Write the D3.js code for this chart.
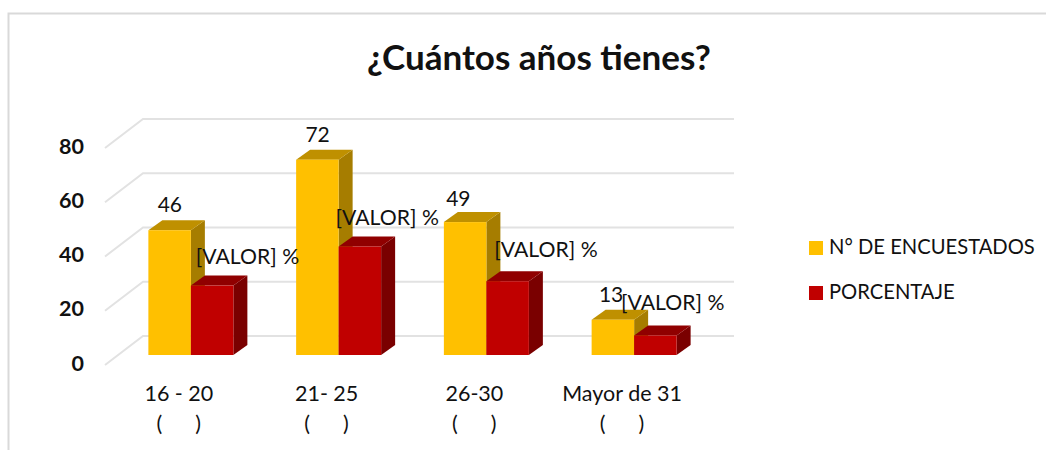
<!DOCTYPE html>
<html><head><meta charset="utf-8">
<script src="https://cdn.jsdelivr.net/npm/d3@7/dist/d3.min.js"></script>
<style>html,body{margin:0;padding:0;background:#fff}svg{display:block}text{font-family:Lato,"Open Sans",sans-serif;fill:#111;white-space:pre}</style>
</head><body><svg id="c" width="1046" height="450"></svg>
<script>
const chartTitle = "¿Cuántos años tienes?";
const categories = ["16 - 20", "21- 25", "26-30", "Mayor de 31"];
const categorySub = ["(      )", "(      )", "(      )", "(      )"];
const seriesNames = ["N° DE ENCUESTADOS", "PORCENTAJE"];
const encuestados = [46, 72, 49, 13];
const porcentaje = [25.6, 40, 27.2, 7.2];
const porcentajeLabels = ["[VALOR] %", "[VALOR] %", "[VALOR] %", "[VALOR] %"];
const yTicks = [0, 20, 40, 60, 80];

// layout
const countNudge = [[-21,-18],[-21,-18],[-28,-16],[-23,-18]];
const pctNudge = [[56.5,-22],[48.5,-22],[59.5,-24],[38.5,-25]];

const svg = d3.select("#c");
const front = {l:117, r:708, base:355};
const wall = {dx:38, dy:29};
const depth = {dx:14, dy:10};
const y = d3.scaleLinear().domain([0,80]).range([front.base, front.base-217]);
const x0 = d3.scaleBand().domain(categories).range([front.l, front.r]);
const barW = 42.5;
const x1 = i => x0(categories[i]) + x0.bandwidth()/2;
const col = [{f:"#FFC000",t:"#BF9000",s:"#A67D00"},{f:"#C00000",t:"#900000",s:"#7A0000"}];

svg.append("path").attr("d","M8.5,450V13.5H1046").attr("fill","none").attr("stroke","#d9d9d9").attr("stroke-width",2);

const gx0 = 105, gx1 = 143, gEnd = 734;
yTicks.forEach(t=>{
  const yy = y(t)+10;
  svg.append("path").attr("d",`M${gx0},${yy}L${gx1},${yy-wall.dy}H${gEnd}`).attr("fill","none").attr("stroke","#e2e2e2").attr("stroke-width",2);
});

svg.selectAll(".yt").data(yTicks).join("text").attr("x",84).attr("y",d=>y(d)+8)
  .attr("dy",".35em").attr("font-size",21.5).attr("font-weight",700).attr("text-anchor","end").text(d=>d);

function bar(v,i,s){
  const xl = x1(i) + (s===0?-barW:0), xr = xl+barW, yt = y(v), yb = y(0);
  const g = svg.append("g");
  g.append("path").attr("d",`M${xr},${yb}V${yt}l${depth.dx},${-depth.dy}V${yb-depth.dy}Z`).attr("fill",col[s].s);
  g.append("path").attr("d",`M${xl},${yt}l${depth.dx},${-depth.dy}H${xr+depth.dx}L${xr},${yt}Z`).attr("fill",col[s].t);
  g.append("rect").attr("x",xl).attr("y",yt).attr("width",barW).attr("height",yb-yt).attr("fill",col[s].f);
}
categories.forEach((c,i)=>{bar(encuestados[i],i,0);bar(porcentaje[i],i,1);});

encuestados.forEach((v,i)=>{
  svg.append("text").attr("x",x1(i)+countNudge[i][0]).attr("y",y(v)+countNudge[i][1]).attr("text-anchor","middle").attr("font-size",21).text(v);
});
porcentaje.forEach((v,i)=>{
  svg.append("text").attr("x",x1(i)+pctNudge[i][0]).attr("y",y(v)+pctNudge[i][1]).attr("text-anchor","middle").attr("font-size",21.2).text(porcentajeLabels[i]);
});

categories.forEach((c,i)=>{
  svg.append("text").attr("x",x1(i)-12).attr("y",401).attr("text-anchor","middle").attr("font-size",21.5).text(c);
  svg.append("text").attr("x",x1(i)-12).attr("y",431).attr("text-anchor","middle").attr("font-size",21.5).text(categorySub[i]);
});

svg.append("text").attr("x",539).attr("y",70).attr("text-anchor","middle").attr("font-size",35).attr("font-weight",700).text(chartTitle);

seriesNames.forEach((n,i)=>{
  svg.append("rect").attr("x",809).attr("y",241+45*i).attr("width",14).attr("height",14).attr("fill",col[i].f);
  svg.append("text").attr("x",829).attr("y",254+45*i).attr("font-size",20.2).text(n);
});
</script></body></html>
